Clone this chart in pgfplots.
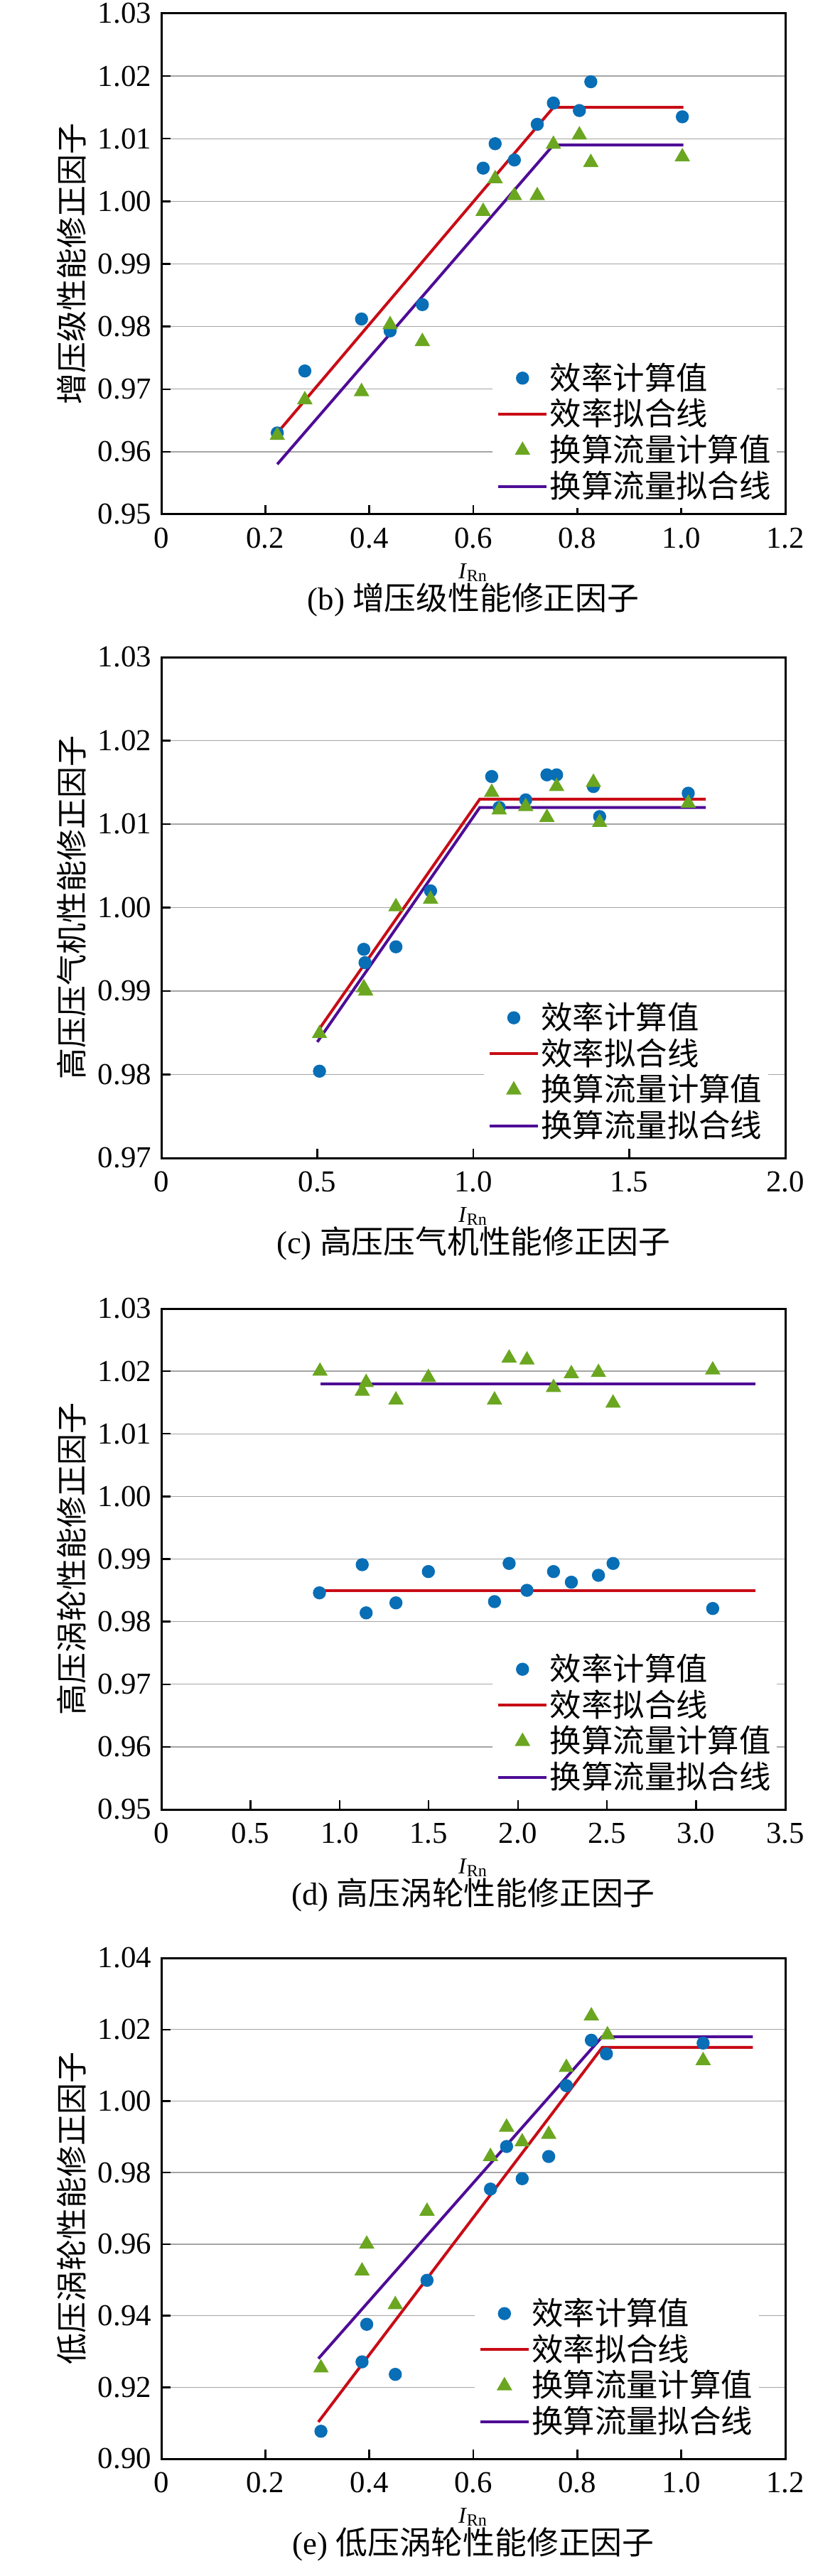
\documentclass[border=0pt]{standalone}
\usepackage{pgfplots}
\pgfplotsset{compat=1.18}
\usepackage{fontspec}
\setmainfont{Liberation Serif}
\newfontfamily\cjk{Noto Sans CJK SC}
\definecolor{blueM}{RGB}{8,110,182}
\definecolor{greenM}{RGB}{106,166,32}
\definecolor{redL}{RGB}{200,12,22}
\definecolor{purpL}{RGB}{78,12,150}
\definecolor{gridgray}{RGB}{165,165,165}
\pgfplotsset{
  panel/.style={
    width=219.5pt, height=176.25pt, scale only axis,
    axis line style={line width=0.75pt, black},
    tick align=inside, tick pos=left, major tick length=3.2pt,
    every tick/.style={black, line width=0.6pt},
    ymajorgrids, grid style={line width=0.35pt, color=gridgray},
    tick label style={font=\fontsize{10.7}{12}\selectfont},
    xticklabel style={yshift=-1.2pt},
    ylabel style={font=\cjk\fontsize{11}{12}\selectfont, at={(axis description cs:-0.1435,0.5)}, anchor=center},
    extra description/.code={
      \node[font=\fontsize{8}{9}\selectfont, anchor=center, inner sep=0pt] at (0.5,-0.1163) {\textit{I}\textsubscript{Rn}};
    },
    title style={font=\fontsize{11.2}{13}\selectfont, at={(axis description cs:0.5,0)}, anchor=center, inner sep=0pt, yshift=-36.2pt},
    legend cell align=left,
    legend style={draw=none, fill=white, inner sep=1.5pt, anchor=south west,
      font=\cjk\fontsize{11.1}{12}\selectfont, nodes={inner sep=0.6pt}, row sep=0.6pt},
  },
  dots/.style={only marks, mark=*, mark size=2.1pt, color=blueM, mark options={draw=blueM, fill=blueM}},
  tris/.style={only marks, mark=triangle*, mark size=2.75pt, color=greenM, mark options={draw=greenM, fill=greenM}},
  fitA/.style={no marks, color=redL, line width=1pt},
  fitB/.style={no marks, color=purpL, line width=1pt},
}
\begin{document}
\begin{tikzpicture}
\useasboundingbox (0,0) rectangle (295.25pt,-906.5pt);
% ---------- (b)
\begin{axis}[panel, at={(56.75pt,-4.75pt)}, anchor=north west,
  xmin=0, xmax=1.2, ymin=0.95, ymax=1.03,
  xtick={0,0.2,0.4,0.6,0.8,1.0,1.2}, xticklabels={0,0.2,0.4,0.6,0.8,1.0,1.2},
  ytick={0.95,0.96,0.97,0.98,0.99,1.00,1.01,1.02,1.03},
  yticklabels={0.95,0.96,0.97,0.98,0.99,1.00,1.01,1.02,1.03},
  ylabel={增压级性能修正因子},
  title={(b) {\cjk 增压级性能修正因子}},
  legend style={at={(axis description cs:0.530,0.012)}}]
\addplot[dots] coordinates {(0.223,0.9630) (0.276,0.9729) (0.385,0.9812) (0.440,0.9793) (0.502,0.9835) (0.619,1.0053) (0.642,1.0092) (0.679,1.0066) (0.723,1.0123) (0.754,1.0157) (0.804,1.0145) (0.826,1.0191) (1.002,1.0135)};
\addplot[fitA] coordinates {(0.223,0.963) (0.754,1.015) (1.004,1.015)};
\addplot[tris] coordinates {(0.223,0.9626) (0.276,0.9683) (0.385,0.9696) (0.440,0.9803) (0.502,0.9776) (0.619,0.9984) (0.642,1.0036) (0.679,1.0009) (0.723,1.0009) (0.754,1.0091) (0.804,1.0106) (0.826,1.0062) (1.002,1.0071)};
\addplot[fitB] coordinates {(0.223,0.958) (0.754,1.009) (1.004,1.009)};
\legend{效率计算值,效率拟合线,换算流量计算值,换算流量拟合线}
\end{axis}
% ---------- (c)
\begin{axis}[panel, at={(56.75pt,-231.25pt)}, anchor=north west,
  xmin=0, xmax=2.0, ymin=0.97, ymax=1.03,
  xtick={0,0.5,1.0,1.5,2.0}, xticklabels={0,0.5,1.0,1.5,2.0},
  ytick={0.97,0.98,0.99,1.00,1.01,1.02,1.03},
  yticklabels={0.97,0.98,0.99,1.00,1.01,1.02,1.03},
  ylabel={高压压气机性能修正因子},
  title={(c) {\cjk 高压压气机性能修正因子}},
  legend style={at={(axis description cs:0.516,0.02)}}]
\addplot[dots] coordinates {(0.507,0.9804) (0.649,0.9950) (0.653,0.9934) (0.752,0.9953) (0.863,1.0020) (1.059,1.0157) (1.083,1.0120) (1.168,1.0129) (1.236,1.0159) (1.267,1.0159) (1.385,1.0145) (1.405,1.0109) (1.689,1.0137)};
\addplot[fitA] coordinates {(0.507,0.9855) (1.021,1.013) (1.745,1.013)};
\addplot[tris] coordinates {(0.507,0.9849) (0.649,0.9904) (0.655,0.9900) (0.752,1.0001) (0.863,1.0010) (1.059,1.0138) (1.083,1.0117) (1.168,1.0121) (1.236,1.0108) (1.267,1.0145) (1.385,1.0150) (1.405,1.0102) (1.689,1.0125)};
\addplot[fitB] coordinates {(0.500,0.9839) (1.021,1.012) (1.745,1.012)};
\legend{效率计算值,效率拟合线,换算流量计算值,换算流量拟合线}
\end{axis}
% ---------- (d)
\begin{axis}[panel, at={(56.75pt,-460.5pt)}, anchor=north west,
  xmin=0, xmax=3.5, ymin=0.95, ymax=1.03,
  xtick={0,0.5,1.0,1.5,2.0,2.5,3.0,3.5}, xticklabels={0,0.5,1.0,1.5,2.0,2.5,3.0,3.5},
  ytick={0.95,0.96,0.97,0.98,0.99,1.00,1.01,1.02,1.03},
  yticklabels={0.95,0.96,0.97,0.98,0.99,1.00,1.01,1.02,1.03},
  ylabel={高压涡轮性能修正因子},
  title={(d) {\cjk 高压涡轮性能修正因子}},
  legend style={at={(axis description cs:0.530,0.02)}}]
\addplot[dots] coordinates {(0.887,0.9846) (1.127,0.9891) (1.149,0.9814) (1.316,0.9830) (1.498,0.9880) (1.869,0.9832) (1.951,0.9893) (2.051,0.9850) (2.200,0.9880) (2.300,0.9863) (2.452,0.9874) (2.534,0.9893) (3.093,0.9821)};
\addplot[fitA] coordinates {(0.893,0.985) (3.333,0.985)};
\addplot[tris] coordinates {(0.890,1.0200) (1.127,1.0168) (1.149,1.0182) (1.316,1.0154) (1.498,1.0190) (1.869,1.0154) (1.951,1.0221) (2.051,1.0218) (2.200,1.0174) (2.300,1.0196) (2.452,1.0198) (2.534,1.0149) (3.093,1.0202)};
\addplot[fitB] coordinates {(0.893,1.018) (3.333,1.018)};
\legend{效率计算值,效率拟合线,换算流量计算值,换算流量拟合线}
\end{axis}
% ---------- (e)
\begin{axis}[panel, at={(56.75pt,-689pt)}, anchor=north west,
  xmin=0, xmax=1.2, ymin=0.90, ymax=1.04,
  xtick={0,0.2,0.4,0.6,0.8,1.0,1.2}, xticklabels={0,0.2,0.4,0.6,0.8,1.0,1.2},
  ytick={0.90,0.92,0.94,0.96,0.98,1.00,1.02,1.04},
  yticklabels={0.90,0.92,0.94,0.96,0.98,1.00,1.02,1.04},
  ylabel={低压涡轮性能修正因子},
  title={(e) {\cjk 低压涡轮性能修正因子}},
  legend style={at={(axis description cs:0.501,0.03)}}]
\addplot[dots] coordinates {(0.307,0.9077) (0.386,0.9271) (0.395,0.9376) (0.450,0.9236) (0.511,0.9499) (0.633,0.9754) (0.664,0.9873) (0.694,0.9783) (0.745,0.9845) (0.779,1.0043) (0.827,1.0170) (0.856,1.0132) (1.042,1.0162)};
\addplot[fitA] coordinates {(0.302,0.9103) (0.848,1.015) (1.1375,1.015)};
\addplot[tris] coordinates {(0.307,0.9254) (0.386,0.9525) (0.395,0.9600) (0.450,0.9431) (0.511,0.9692) (0.633,0.9845) (0.664,0.9927) (0.694,0.9886) (0.745,0.9907) (0.779,1.0094) (0.827,1.0238) (0.858,1.0185) (1.042,1.0113)};
\addplot[fitB] coordinates {(0.302,0.928) (0.848,1.018) (1.1375,1.018)};
\legend{效率计算值,效率拟合线,换算流量计算值,换算流量拟合线}
\end{axis}
\end{tikzpicture}
\end{document}
